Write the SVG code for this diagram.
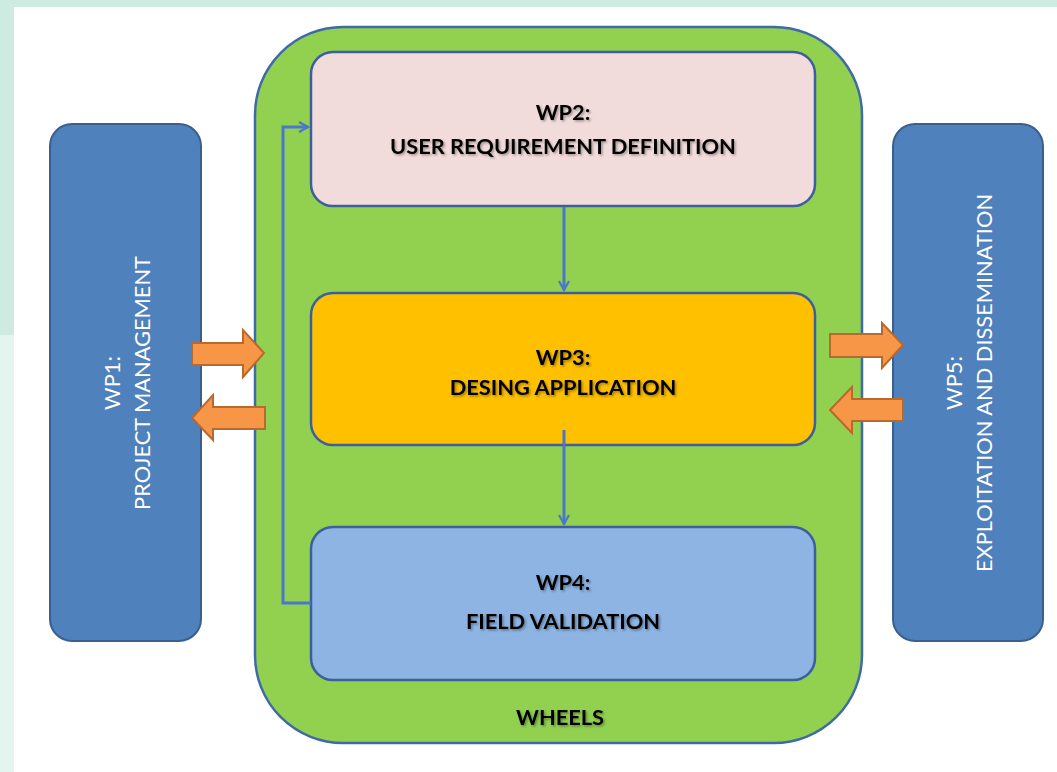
<svg xmlns="http://www.w3.org/2000/svg" width="1057" height="772" viewBox="0 0 1057 772">
<defs>
<style>
.side{fill:#4F81BD;stroke:#3A5F8E;stroke-width:2}
.inner{stroke:#3D5F9E;stroke-width:2.5}
.bt{font-family:Lato,"Open Sans","Liberation Sans",sans-serif;font-weight:bold;font-size:21.8px;fill:#000;text-anchor:middle;filter:url(#sh)}
.wt{font-family:Lato,"Open Sans","Liberation Sans",sans-serif;font-size:21.8px;fill:#fff;text-anchor:middle}
.conn{fill:none;stroke:#4A77C9;stroke-width:3}
.blk{fill:#F79646;stroke:#B8692D;stroke-width:2}
</style>
<filter id="sh" x="-10%" y="-30%" width="120%" height="160%">
<feDropShadow dx="1.5" dy="1.5" stdDeviation="1" flood-color="#000" flood-opacity="0.35"/>
</filter>
<marker id="ah" viewBox="0 0 12 12" refX="10" refY="6" markerWidth="12" markerHeight="12" markerUnits="userSpaceOnUse" orient="auto">
<path d="M1,1 L10,6 L1,11" fill="none" stroke="#4A77C9" stroke-width="2.2"/>
</marker>
</defs>
<rect width="1057" height="772" fill="#fff"/>
<rect x="0" y="0" width="1057" height="7" fill="#CDEBE0"/>
<rect x="0" y="0" width="14" height="335" fill="#CDEBE0"/>
<rect x="0" y="335" width="14" height="437" fill="#E4F4EE"/>

<g id="wheels">
<rect x="255" y="27" width="607" height="716" rx="88" ry="88" fill="#92D050" stroke="#3F6AA8" stroke-width="2.5"/>
<text class="bt" x="560" y="725">WHEELS</text>
</g>

<g id="wp1">
<rect class="side" x="50" y="124" width="151" height="517" rx="22"/>
<text class="wt" transform="translate(120,383) rotate(-90)">WP1:</text>
<text class="wt" transform="translate(150,383) rotate(-90)">PROJECT MANAGEMENT</text>
</g>

<g id="wp5">
<rect class="side" x="893" y="124" width="150" height="517" rx="22"/>
<text class="wt" transform="translate(962,383) rotate(-90)">WP5:</text>
<text class="wt" transform="translate(992,383) rotate(-90)">EXPLOITATION AND DISSEMINATION</text>
</g>

<g id="wp2">
<rect class="inner" x="311" y="52" width="504" height="154" rx="22" fill="#F2DCDB"/>
<text class="bt" x="563" y="120">WP2:</text>
<text class="bt" x="563" y="154">USER REQUIREMENT DEFINITION</text>
</g>

<g id="wp3">
<rect class="inner" x="311" y="293" width="504" height="152" rx="22" fill="#FFC000"/>
<text class="bt" x="563" y="365">WP3:</text>
<text class="bt" x="563" y="395">DESING APPLICATION</text>
</g>

<g id="wp4">
<rect class="inner" x="311" y="527" width="504" height="153" rx="22" fill="#8DB4E2"/>
<text class="bt" x="563" y="590">WP4:</text>
<text class="bt" x="563" y="629">FIELD VALIDATION</text>
</g>

<g id="connectors">
<line class="conn" x1="564" y1="207" x2="564" y2="290" marker-end="url(#ah)"/>
<line class="conn" x1="564" y1="430" x2="564" y2="524" marker-end="url(#ah)"/>
<polyline class="conn" points="311,603 283,603 283,127 308,127" marker-end="url(#ah)"/>
<path class="blk" d="M192,343 L243,343 L243,330 L264,353 L243,377 L243,365 L192,365 Z"/>
<path class="blk" d="M265,407 L213,407 L213,395 L192,418 L213,440 L213,429 L265,429 Z"/>
<path class="blk" d="M830,334 L882,334 L882,323 L903,345 L882,368 L882,357 L830,357 Z"/>
<path class="blk" d="M903,399 L852,399 L852,387 L830,410 L852,433 L852,421 L903,421 Z"/>
</g>
</svg>
